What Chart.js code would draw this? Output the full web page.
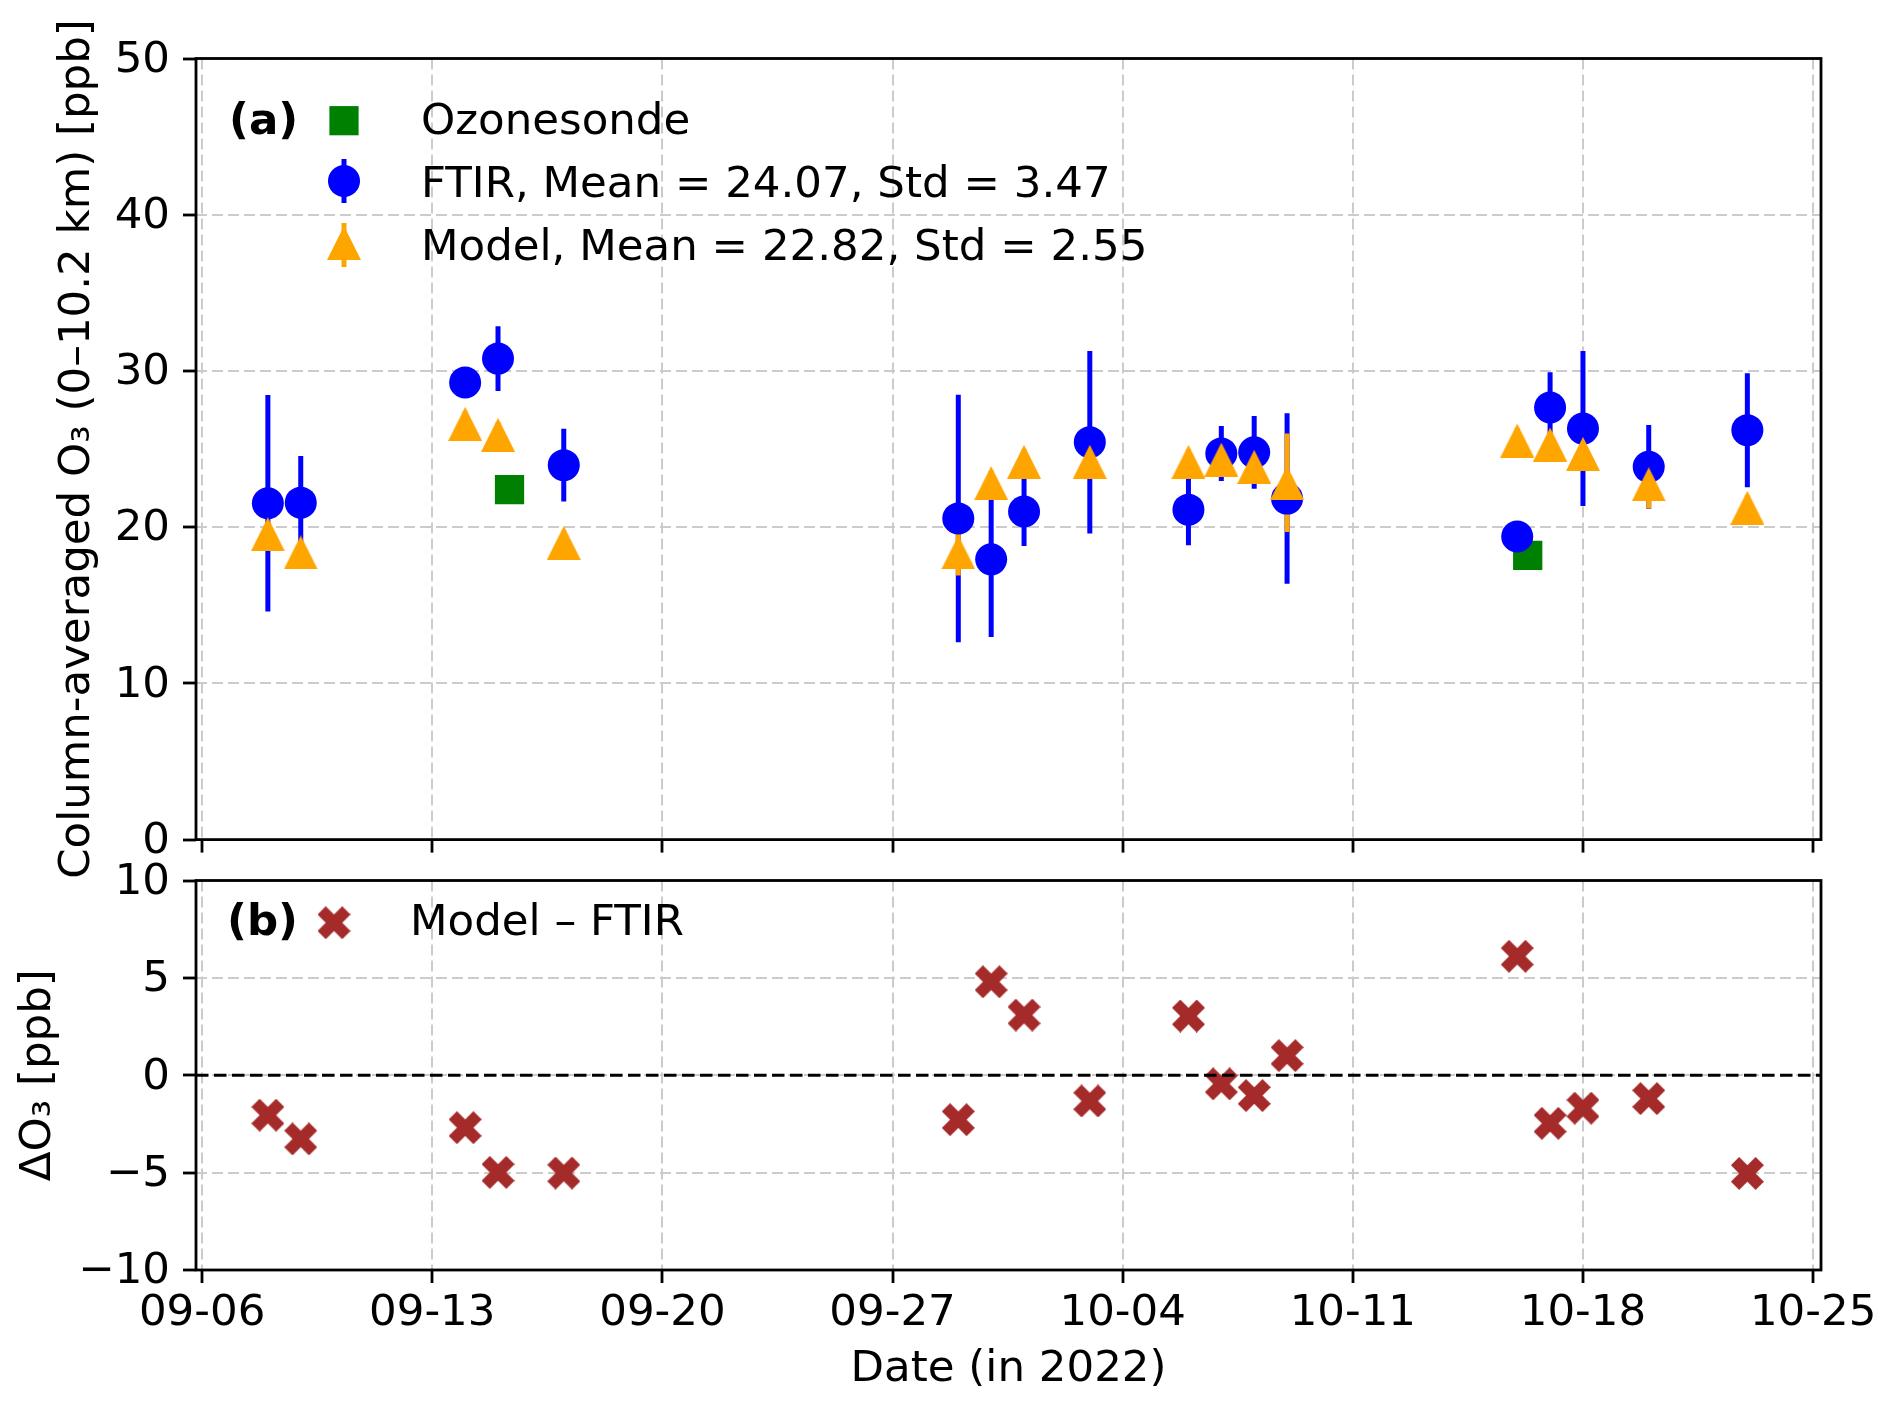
<!doctype html>
<html lang="en">
<head>
    <meta charset="utf-8">
    <title>Column-averaged O3: Ozonesonde, FTIR and Model</title>
    <script src="https://cdn.jsdelivr.net/npm/chart.js"></script>
    <style>
        html, body { margin: 0; padding: 0; background: #fff; }
        #wrap { position: relative; width: 1892px; height: 1412px; }
        #panelA { position: absolute; left: 0; top: 0; }
        #panelB { position: absolute; left: 0; top: 840px; }
    </style>
</head>
<body>
<div id="wrap">
    <canvas id="panelA" width="1892" height="900"></canvas>
    <canvas id="panelB" width="1892" height="572"></canvas>
</div>

<script>
    // ---- data ----
    const obsDates = ['2022-09-08', '2022-09-09', '2022-09-14', '2022-09-15', '2022-09-17',
                      '2022-09-29', '2022-09-30', '2022-10-01', '2022-10-03', '2022-10-06',
                      '2022-10-07', '2022-10-08', '2022-10-09', '2022-10-16', '2022-10-17',
                      '2022-10-18', '2022-10-20', '2022-10-23'];
    const ftirMean  = [21.53, 21.57, 29.26, 30.79, 23.97, 20.56, 17.94, 21.00, 25.44, 21.12,
                       24.72, 24.79, 21.83, 19.40, 27.66, 26.31, 23.86, 26.21];
    const ftirErr   = [6.93, 2.98, 0.90, 2.07, 2.33, 7.92, 4.97, 2.20, 5.84, 2.27,
                       1.76, 2.33, 5.46, 0.90, 2.25, 4.96, 2.68, 3.65];
    const modelMean = [19.55, 18.38, 26.61, 25.91, 18.99, 18.38, 22.82, 24.18, 24.18, 24.18,
                       24.32, 23.86, 22.84, 25.54, 25.29, 24.69, 22.74, 21.24];
    const modelErr  = [0.80, 0.70, 0.80, 0.80, 0.80, 1.48, 0.80, 0.80, 0.80, 0.80,
                       0.70, 0.70, 3.15, 0.80, 0.80, 0.80, 1.55, 0.80];
    const diffValues = [-2.05, -3.27, -2.69, -4.99, -5.02, -2.28, 4.80, 3.09, -1.32, 3.04,
                        -0.44, -1.04, 1.01, 6.11, -2.47, -1.69, -1.20, -5.04];
    const sondeDates  = ['2022-09-15 08:24', '2022-10-16 07:40'];
    const sondeValues = [22.40, 18.19];
    const tickLabels  = ['09-06', '09-13', '09-20', '09-27', '10-04', '10-11', '10-18', '10-25'];
    const legendA = ['Ozonesonde', 'FTIR, Mean = 24.07, Std = 3.47', 'Model, Mean = 22.82, Std = 2.55'];
    const legendB = 'Model \u2013 FTIR';

    // ---- helpers ----
    const BLUE = '#0000ff', ORANGE = '#ffa500', GREEN = '#008000', BROWN = '#a52a2a';
    const FONT = '"DejaVu Sans", "Liberation Sans", sans-serif';
    const FS = 43.5;

    const t0 = Date.UTC(2022, 8, 6);
    function dayOf(s) {
        const [d, t] = s.split(' ');
        const [y, m, dd] = d.split('-').map(Number);
        const [h, mi] = t ? t.split(':').map(Number) : [0, 0];
        return (Date.UTC(y, m - 1, dd, h, mi) - t0) / 864e5;
    }
    const obsDays = obsDates.map(s => dayOf(s));
    const sondeDays = sondeDates.map(s => dayOf(s));
    const tickDays = tickLabels.map(l => dayOf('2022-' + l));

    // matplotlib-like marker shapes
    function makeTriangle(size, color) {
        const c = document.createElement('canvas');
        c.width = c.height = size;
        const g = c.getContext('2d');
        g.fillStyle = color;
        g.beginPath();
        g.moveTo(size / 2, 0);
        g.lineTo(size, size);
        g.lineTo(0, size);
        g.closePath();
        g.fill();
        return c;
    }
    function makeCross(size, color) {
        const c = document.createElement('canvas');
        c.width = c.height = size;
        const g = c.getContext('2d');
        const pts = [[0.25, 0], [0.5, 0.25], [0.75, 0], [1, 0.25], [0.75, 0.5], [1, 0.75],
                     [0.75, 1], [0.5, 0.75], [0.25, 1], [0, 0.75], [0.25, 0.5], [0, 0.25]];
        g.fillStyle = color;
        g.beginPath();
        pts.forEach(([px, py], i) => i ? g.lineTo(px * size, py * size) : g.moveTo(px * size, py * size));
        g.closePath();
        g.fill();
        return c;
    }
    const triImg = makeTriangle(34, ORANGE);
    const crossImg = makeCross(33, BROWN);

    Chart.defaults.font.family = FONT;
    Chart.defaults.font.size = FS;
    Chart.defaults.color = '#000';

    const gridOpts = {
        color: '#cbcbcb', lineWidth: 2, drawTicks: true, tickLength: 13,
        tickColor: '#000', tickWidth: 2.8, tickBorderDash: []
    };

    function yAxis(min, max, step, title, titlePad) {
        return {
            type: 'linear', min: min, max: max,
            ticks: {
                stepSize: step, padding: 13, labelOffset: 2, color: '#000',
                font: { size: FS, lineHeight: 1 },
                callback: v => (v < 0 ? '\u2212' + Math.abs(v) : String(v))
            },
            grid: gridOpts,
            border: { display: false, dash: [11, 5] },
            title: {
                display: true, text: title, color: '#000',
                font: { size: FS, lineHeight: 1 },
                padding: { top: titlePad, bottom: 0 }
            },
            afterFit: s => { s.width = 196; }
        };
    }

    function xAxis(showLabels, height, title) {
        return {
            type: 'linear', min: -0.186, max: 49.24,
            afterBuildTicks: s => { s.ticks = tickDays.map(v => ({ value: v })); },
            ticks: {
                display: showLabels, autoSkip: false, maxRotation: 0, minRotation: 0,
                padding: 9, color: '#000', font: { size: FS, lineHeight: 1 },
                callback: (v, i) => tickLabels[i]
            },
            grid: gridOpts,
            border: { display: false, dash: [11, 5] },
            title: title ? {
                display: true, text: title, color: '#000',
                font: { size: FS, lineHeight: 1 },
                padding: { top: 0, bottom: 20.25 }
            } : { display: false },
            afterFit: s => { s.height = height; }
        };
    }

    function drawFrame(chart) {
        const { ctx, chartArea: a } = chart;
        ctx.save();
        ctx.strokeStyle = '#000';
        ctx.lineWidth = 2.8;
        ctx.strokeRect(a.left, a.top, a.right - a.left, a.bottom - a.top);
        ctx.restore();
    }

    // error bars: drawn just before the FTIR markers (above the sonde squares)
    const errorBars = {
        id: 'errorBars',
        beforeDatasetDraw(chart, args) {
            if (args.index !== 1) return;
            const { ctx, scales: { x, y } } = chart;
            ctx.save();
            ctx.lineWidth = 5;
            ctx.lineCap = 'butt';
            [[ftirMean, ftirErr, BLUE], [modelMean, modelErr, ORANGE]].forEach(([m, e, col]) => {
                ctx.strokeStyle = col;
                ctx.beginPath();
                obsDays.forEach((d, i) => {
                    const px = x.getPixelForValue(d);
                    ctx.moveTo(px, y.getPixelForValue(m[i] - e[i]));
                    ctx.lineTo(px, y.getPixelForValue(m[i] + e[i]));
                });
                ctx.stroke();
            });
            ctx.restore();
        }
    };

    const decorA = {
        id: 'decorA',
        afterDraw(chart) {
            drawFrame(chart);
            const ctx = chart.ctx;
            ctx.save();
            ctx.fillStyle = '#000';
            ctx.textBaseline = 'alphabetic';
            ctx.font = 'bold ' + FS + 'px ' + FONT;
            ctx.fillText('(a)', 229, 134);
            ctx.font = FS + 'px ' + FONT;
            const base = [134, 197, 260];
            legendA.forEach((t, i) => ctx.fillText(t, 421, base[i]));
            // Ozonesonde square
            ctx.fillStyle = GREEN;
            ctx.fillRect(344 - 14.6, 120.7 - 14.6, 29.2, 29.2);
            // FTIR circle with bar
            ctx.fillStyle = BLUE;
            ctx.fillRect(341.5, 159, 5, 44);
            ctx.beginPath();
            ctx.arc(344, 181, 16, 0, Math.PI * 2);
            ctx.fill();
            // Model triangle with bar
            ctx.fillStyle = ORANGE;
            ctx.fillRect(341.5, 223, 5, 44);
            ctx.drawImage(triImg, 344 - triImg.width / 2, 243 - triImg.height / 2);
            ctx.restore();
        }
    };

    const decorB = {
        id: 'decorB',
        afterDatasetsDraw(chart) {
            const { ctx, chartArea: a, scales: { y } } = chart;
            const py = y.getPixelForValue(0);
            ctx.save();
            ctx.strokeStyle = '#000';
            ctx.lineWidth = 3;
            ctx.setLineDash([12.5, 5.5]);
            ctx.beginPath();
            ctx.moveTo(a.left, py);
            ctx.lineTo(a.right, py);
            ctx.stroke();
            ctx.restore();
        },
        afterDraw(chart) {
            drawFrame(chart);
            const ctx = chart.ctx;
            ctx.save();
            ctx.fillStyle = '#000';
            ctx.textBaseline = 'alphabetic';
            ctx.font = 'bold ' + FS + 'px ' + FONT;
            ctx.fillText('(b)', 227, 94.5);
            ctx.font = FS + 'px ' + FONT;
            ctx.fillText(legendB, 410, 94.5);
            ctx.drawImage(crossImg, 334 - crossImg.width / 2, 82.7 - crossImg.height / 2);
            ctx.restore();
        }
    };

    const common = {
        responsive: false,
        devicePixelRatio: 1,
        animation: false,
        events: [],
        plugins: { legend: { display: false }, tooltip: { enabled: false } }
    };

    new Chart(document.getElementById('panelA'), {
        type: 'scatter',
        data: {
            datasets: [
                {
                    label: legendA[0],
                    data: sondeDays.map((d, i) => ({ x: d, y: sondeValues[i] })),
                    pointStyle: 'rect', pointRadius: 20.7, pointBorderWidth: 0,
                    backgroundColor: GREEN, borderColor: GREEN, order: 3
                },
                {
                    label: legendA[1],
                    data: obsDays.map((d, i) => ({ x: d, y: ftirMean[i] })),
                    pointStyle: 'circle', pointRadius: 16, pointBorderWidth: 0,
                    backgroundColor: BLUE, borderColor: BLUE, order: 2
                },
                {
                    label: legendA[2],
                    data: obsDays.map((d, i) => ({ x: d, y: modelMean[i] })),
                    pointStyle: triImg, pointRadius: 17,
                    backgroundColor: ORANGE, borderColor: ORANGE, order: 1
                }
            ]
        },
        options: Object.assign({}, common, {
            layout: { padding: { left: 0, right: 71, top: 58.5, bottom: 0 } },
            scales: {
                x: xAxis(false, 60.4, null),
                y: yAxis(0, 50, 10, 'Column-averaged O\u2083 (0\u201310.2 km) [ppb]', 55.7)
            }
        }),
        plugins: [errorBars, decorA]
    });

    new Chart(document.getElementById('panelB'), {
        type: 'scatter',
        data: {
            datasets: [{
                label: legendB,
                data: obsDays.map((d, i) => ({ x: d, y: diffValues[i] })),
                pointStyle: crossImg, pointRadius: 16,
                backgroundColor: BROWN, borderColor: BROWN
            }]
        },
        options: Object.assign({}, common, {
            layout: { padding: { left: 0, right: 71, top: 40.5, bottom: 0 } },
            scales: {
                x: xAxis(true, 142, 'Date (in 2022)'),
                y: yAxis(-10, 10, 5, '\u0394O\u2083 [ppb]', 16.7)
            }
        }),
        plugins: [decorB]
    });
</script>
</body>
</html>
